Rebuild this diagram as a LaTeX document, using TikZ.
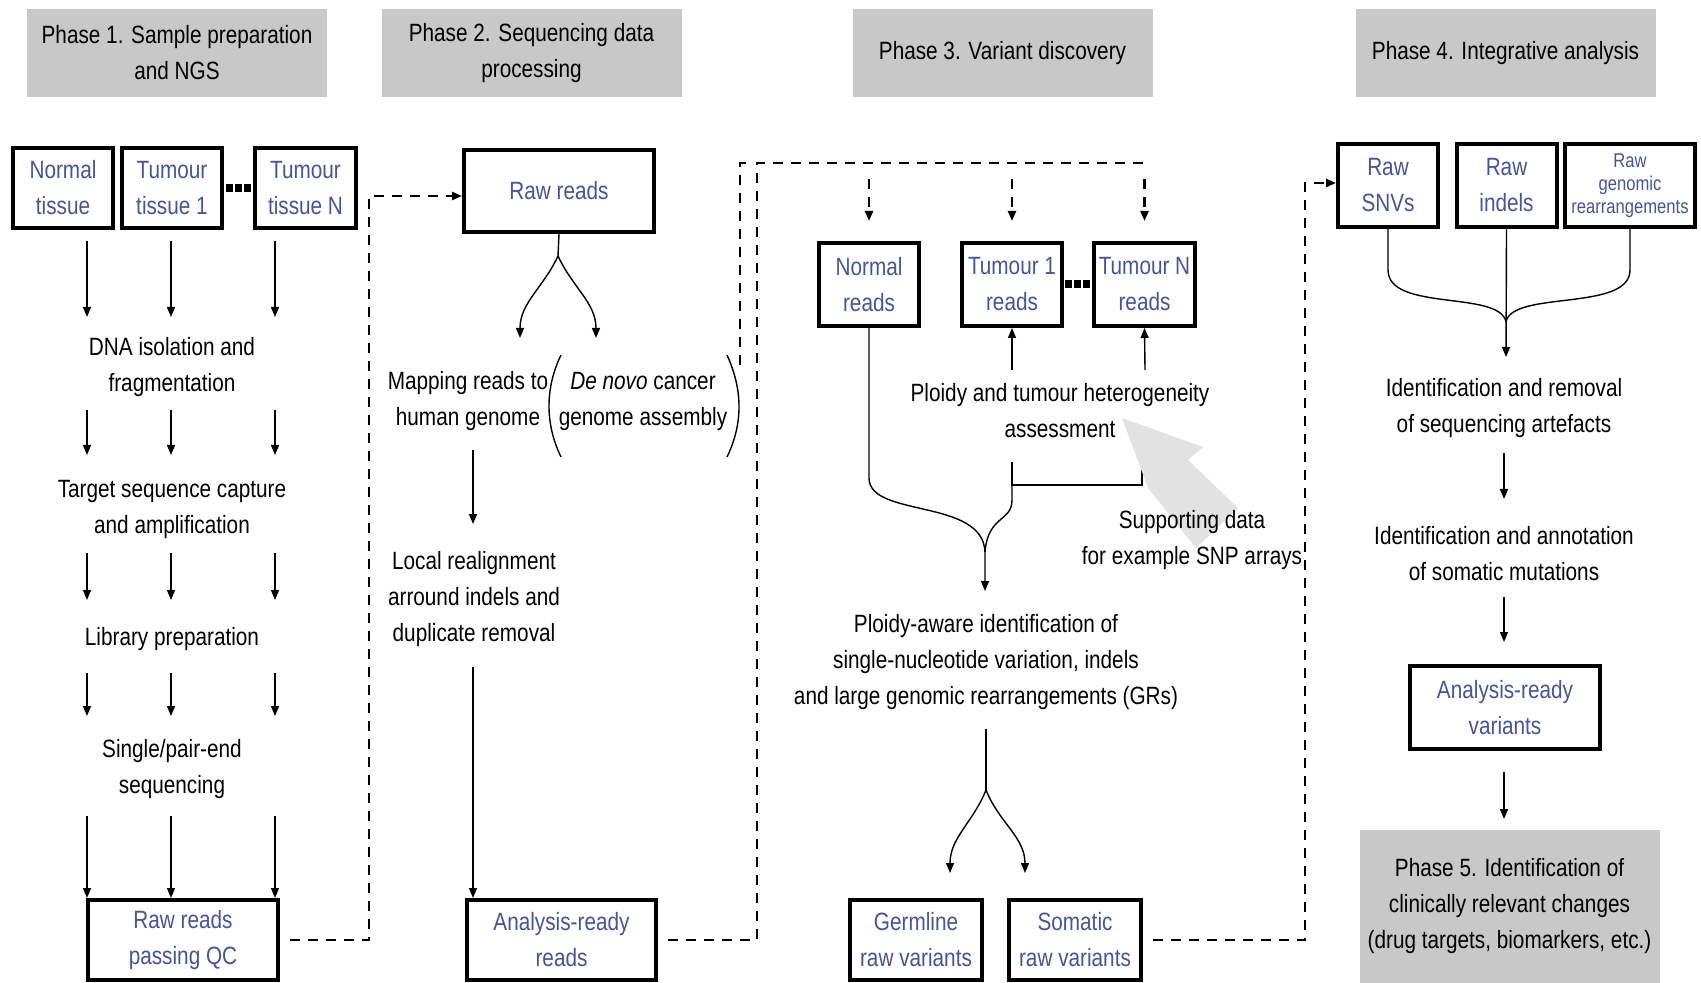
\documentclass[tikz,border=0pt]{standalone}
\usepackage{fontspec}
\setmainfont{Liberation Sans}[FakeStretch=0.83]
\usetikzlibrary{arrows.meta}
\definecolor{txtblue}{RGB}{72,84,152}
\definecolor{hdrgray}{RGB}{200,200,200}
\definecolor{suppgray}{RGB}{226,226,226}
\begin{document}
\begin{tikzpicture}[x=0.5pt,y=-0.5pt,
  txt/.style={font=\fontsize{12.5}{18}\selectfont, align=center, inner sep=0pt},
  box/.style={txt, draw, line width=2pt, fill=white, text=txtblue},
  hdr/.style={txt, fill=hdrgray, minimum width=150pt, minimum height=44pt},
  arr/.style={line width=0.7pt, -{Triangle[length=5pt,width=4pt]}},
  ln/.style={line width=0.7pt},
  dline/.style={line width=1.4pt, dash pattern=on 5pt off 4pt},
  darr/.style={dline, -{Triangle[length=5pt,width=4pt]}},
]
\useasboundingbox (0,0) rectangle (1701,983);

% headers
\node[hdr] (p1) at (177,53) {Phase 1. Sample preparation\\and NGS};
\node[hdr] (p2) at (531.5,53) {Phase 2. Sequencing data\\processing};
\node[hdr] (p3) at (1002.5,53) {Phase 3. Variant discovery};
\node[hdr] (p4) at (1505.5,53) {Phase 4. Integrative analysis};
\node[hdr, minimum height=76.5pt] (p5) at (1509.5,906.5) {Phase 5. Identification of\\clinically relevant changes\\(drug targets, biomarkers, etc.)};

% ---------- Phase 1
\node[box, minimum width=50pt, minimum height=40pt] (nt) at (63,188) {Normal\\tissue};
\node[box, minimum width=50pt, minimum height=40pt] (tt1) at (172,188) {Tumour\\tissue 1};
\node[box, minimum width=50.5pt, minimum height=40pt] (ttN) at (305.5,188) {Tumour\\tissue N};
\foreach \d in {226,235,244} { \fill (\d,184) rectangle +(7,8); }

\node[txt] (dna) at (172,367) {DNA isolation and\\fragmentation};
\node[txt] (tsc) at (172,509) {Target sequence capture\\and amplification};
\node[txt] (lib) at (172,639) {Library preparation};
\node[txt] (spe) at (172,769) {Single/pair-end\\sequencing};
\node[box, minimum width=95pt, minimum height=40pt] (qc) at (183,940) {Raw reads\\passing QC};

\foreach \x in {87,171,275} {
  \foreach \a/\b in {241/317, 410/455, 553/600, 673/716, 816/898} {
    \draw[arr] (\x,\a) -- (\x,\b);
  }
}

% ---------- Phase 2
\node[box, minimum width=95pt, minimum height=41pt] (rr) at (559,191) {Raw reads};
\coordinate (f2) at (558,256);
\draw[ln] (rr.south) -- (f2);
\draw[arr] (f2) to[out=-115,in=90] (520,338);
\draw[arr] (f2) to[out=-65,in=90] (596,338);
\node[txt] (map) at (468,401) {Mapping reads to\\human genome};
\node[txt] (dnv) at (643,401) {\textit{De novo} cancer\\genome assembly};
\draw[ln] (561,355) .. controls (545,388) and (545,424) .. (561,457);
\draw[ln] (727,355) .. controls (743,390) and (743,424) .. (727,457);
\draw[arr] (473,450) -- (473,524);
\node[txt] (loc) at (474,599) {Local realignment\\arround indels and\\duplicate removal};
\draw[arr] (473,667) -- (473,898);
\node[box, minimum width=94.5pt, minimum height=40pt] (ar) at (561.5,940) {Analysis-ready\\reads};

% dashed connector Phase 1 -> Phase 2
\coordinate (q1) at (369,196);
\draw[darr] ([xshift=5pt]qc.east) -| (q1) -- (rr.west |- q1);

% ---------- Phase 3
\node[box, minimum width=50pt, minimum height=41.5pt] (nr) at (869,284.5) {Normal\\reads};
\node[box, minimum width=50pt, minimum height=41.5pt] (t1r) at (1012,284.5) {Tumour 1\\reads};
\node[box, minimum width=50.5pt, minimum height=41.5pt] (tNr) at (1144.5,284.5) {Tumour N\\reads};
\foreach \d in {1065,1074,1083} { \fill (\d,280) rectangle +(7,8); }

% dashed connector Phase 2 -> Phase 3
\coordinate (q2) at (757,163);
\coordinate (q2e) at (1145,163);
\draw[dline] ([xshift=5pt]ar.east) -| (q2) -- (q2e);
\draw[dline] (746,163) -- (740,163) -- (740,372);
\draw[darr, shorten >=10pt] ([yshift=-8pt]nr.north |- q2) -- (nr.north);
\draw[darr, shorten >=10pt] ([yshift=-8pt]t1r.north |- q2) -- (t1r.north);
\draw[darr, shorten >=10pt] ([yshift=-8pt]tNr.north |- q2) -- (tNr.north);

\node[txt] (plo) at (1060,411) {Ploidy and tumour heterogeneity\\assessment};
\draw[arr] (1012,370) -- (t1r.south);
\draw[arr] (1145,370) -- (tNr.south);
\draw[ln] (1012,462) -- (1012,485) -- (1142,485) -- (1142,462);
\draw[ln] (1012,485) -- (1012,500) .. controls (1012,522) and (988,515) .. (985,552);
\draw[arr] (nr.south) -- (869,478) .. controls (869,518) and (983,498) .. (985,552) -- (985,591);

% supporting data grey arrow
\fill[suppgray] (1122,418) -- (1203,447) -- (1188,460) -- (1238,508) -- (1196,548) -- (1148,488) -- cycle;
\node[txt] (sup) at (1192,540) {Supporting data\\for example SNP arrays};

\node[txt] (pa) at (986,662) {Ploidy-aware identification of\\single-nucleotide variation, indels\\and large genomic rearrangements (GRs)};
\coordinate (f3) at (986,790);
\draw[ln] (986,729) -- (f3);
\draw[arr] (f3) to[out=-112,in=90] (950,873);
\draw[arr] (f3) to[out=-68,in=90] (1025,873);

\node[box, minimum width=66pt, minimum height=40pt] (gr) at (916,940) {Germline\\raw variants};
\node[box, minimum width=66pt, minimum height=40pt] (sr) at (1075,940) {Somatic\\raw variants};

% ---------- Phase 4
\node[box, minimum width=50pt, minimum height=41.5pt] (snv) at (1388,185.5) {Raw\\SNVs};
\node[box, minimum width=50pt, minimum height=41.5pt] (ind) at (1506.5,185.5) {Raw\\indels};
\node[box, minimum width=65pt, minimum height=41.5pt, font=\fontsize{10}{11.5}\selectfont] (gre) at (1630,185.5) {Raw\\genomic\\rearrangements};

% dashed connector Phase 3 -> Phase 4
\coordinate (q3) at (1305,183);
\draw[darr] ([xshift=5pt]sr.east) -| (q3) -- (snv.west |- q3);

\coordinate (m4) at (1506,322);
\draw[ln] (snv.south) -- (1388,270) .. controls (1388,312) and (1500,290) .. (m4);
\draw[ln] (gre.south) -- (1630,270) .. controls (1630,312) and (1512,290) .. (m4);
\draw[arr] (ind.south) -- (1506,357);

\node[txt] (idr) at (1504,408) {Identification and removal\\of sequencing artefacts};
\draw[arr] (1504,453) -- (1504,499);
\node[txt] (ida) at (1504,554) {Identification and annotation\\of somatic mutations};
\draw[arr] (1504,597) -- (1504,642);
\node[box, minimum width=95pt, minimum height=41.5pt] (arv) at (1505,707.5) {Analysis-ready\\variants};
\draw[arr] (1504,772) -- (1504,819);
\end{tikzpicture}
\end{document}
